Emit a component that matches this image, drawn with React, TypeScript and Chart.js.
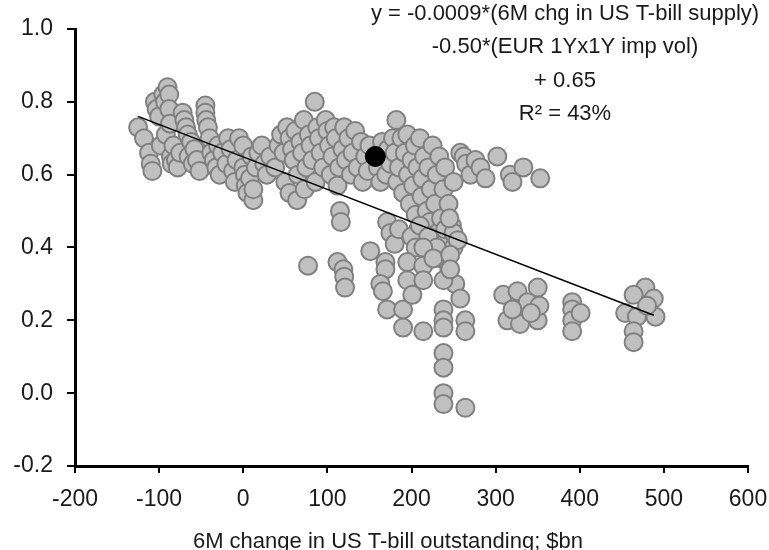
import React, { useEffect, useRef } from "react";
import { Chart, registerables } from "chart.js";

Chart.register(...registerables);

type Pt = [number, number];

// Observations: x = 6M change in US T-bill outstanding ($bn), y = value
const leftCluster: Pt[] = [
  [-125, 0.73], [-118, 0.7], [-112, 0.66], [-110, 0.63], [-108, 0.61], [-105, 0.8], [-103, 0.78],
  [-100, 0.76], [-98, 0.68], [-95, 0.82], [-93, 0.8], [-92, 0.71], [-90, 0.84], [-88, 0.82],
  [-88, 0.78], [-87, 0.74], [-86, 0.65], [-85, 0.63], [-83, 0.68], [-80, 0.64], [-78, 0.62],
  [-75, 0.66], [-72, 0.77], [-70, 0.75], [-68, 0.73], [-66, 0.71], [-65, 0.65], [-62, 0.69],
  [-60, 0.63], [-58, 0.67], [-55, 0.64], [-52, 0.61],
];

const nearZeroCluster: Pt[] = [
  [-45, 0.79], [-45, 0.77], [-44, 0.75], [-42, 0.73], [-40, 0.7], [-38, 0.66], [-35, 0.64],
  [-32, 0.62], [-30, 0.68], [-28, 0.6], [-25, 0.66], [-20, 0.63], [-18, 0.7], [-15, 0.67],
  [-12, 0.61], [-10, 0.58], [-8, 0.64], [-5, 0.7], [0, 0.68], [0, 0.62], [2, 0.6], [3, 0.57],
  [5, 0.55], [8, 0.59], [10, 0.65], [12, 0.53], [12, 0.56], [15, 0.62], [18, 0.66], [22, 0.68],
  [25, 0.63], [28, 0.6], [32, 0.65],
];

const midCluster: Pt[] = [
  [38, 0.62], [42, 0.68], [45, 0.71], [48, 0.66], [50, 0.58], [52, 0.73], [55, 0.7], [55, 0.55],
  [58, 0.67], [60, 0.64], [62, 0.72], [64, 0.53], [65, 0.6], [68, 0.69], [70, 0.66], [72, 0.75],
  [73, 0.56], [75, 0.62], [78, 0.71], [80, 0.68], [82, 0.64], [85, 0.8], [86, 0.58], [88, 0.73],
  [90, 0.7], [92, 0.66], [95, 0.62], [98, 0.75], [100, 0.72], [102, 0.68], [104, 0.6], [106, 0.65],
  [108, 0.73], [110, 0.7], [112, 0.57], [114, 0.62], [115, 0.5], [116, 0.47], [118, 0.67],
  [120, 0.73], [122, 0.64], [125, 0.7], [128, 0.6], [130, 0.66], [133, 0.72], [136, 0.62],
  [140, 0.69], [142, 0.58], [145, 0.65], [148, 0.61], [150, 0.68],
  [77, 0.35], [112, 0.36], [119, 0.34], [120, 0.32], [121, 0.29], [151, 0.39],
];

const denseCluster: Pt[] = [
  [160, 0.62], [163, 0.58], [165, 0.69], [168, 0.65], [170, 0.6], [172, 0.67], [175, 0.63],
  [178, 0.7], [180, 0.66], [182, 0.75], [183, 0.58], [185, 0.62], [188, 0.7], [190, 0.55],
  [192, 0.66], [195, 0.71], [196, 0.6], [198, 0.52], [200, 0.64], [202, 0.57], [204, 0.68],
  [205, 0.49], [207, 0.62], [208, 0.45], [210, 0.7], [212, 0.54], [213, 0.59], [215, 0.65],
  [216, 0.42], [218, 0.5], [220, 0.62], [222, 0.47], [223, 0.56], [225, 0.68], [226, 0.4],
  [228, 0.52], [230, 0.6], [231, 0.44], [233, 0.65], [235, 0.48], [236, 0.37], [238, 0.56],
  [240, 0.62], [242, 0.42], [244, 0.52], [245, 0.34], [248, 0.46], [250, 0.58], [250, 0.4],
  [252, 0.3], [171, 0.47], [175, 0.44], [180, 0.41], [185, 0.45], [200, 0.43], [205, 0.4],
  [210, 0.46], [220, 0.43], [230, 0.4], [240, 0.45], [250, 0.44], [255, 0.42], [245, 0.48],
];

const lowerCluster: Pt[] = [
  [169, 0.36], [169, 0.34], [163, 0.3], [166, 0.28], [171, 0.23], [190, 0.23], [190, 0.18],
  [214, 0.17], [195, 0.36], [195, 0.31], [201, 0.27], [214, 0.4], [214, 0.35], [214, 0.31],
  [226, 0.37], [238, 0.31], [246, 0.38], [246, 0.34], [238, 0.23], [238, 0.2], [238, 0.18],
  [258, 0.26], [264, 0.2], [264, 0.17], [238, 0.11], [238, 0.07], [238, 0.0], [238, -0.03],
  [264, -0.04],
];

const rightArm: Pt[] = [
  [258, 0.66], [262, 0.65], [265, 0.63], [270, 0.6], [276, 0.64], [282, 0.62], [288, 0.59],
  [302, 0.65], [317, 0.6], [320, 0.58], [333, 0.62], [353, 0.59],
];

const farRight: Pt[] = [
  [309, 0.27], [326, 0.28], [350, 0.29], [338, 0.25], [314, 0.2], [329, 0.19], [350, 0.2],
  [352, 0.24], [320, 0.23], [342, 0.22], [391, 0.25], [391, 0.23], [391, 0.2], [391, 0.17],
  [401, 0.22], [478, 0.29], [464, 0.27], [488, 0.26], [454, 0.22], [468, 0.21], [490, 0.21],
  [464, 0.17], [464, 0.14], [480, 0.24],
];

const latestPoint: Pt[] = [[157, 0.65]];

const fitX = [-125, 488];
const fitY = [0.76, 0.214];

const xTicks = [-200, -100, 0, 100, 200, 300, 400, 500, 600];
const yTicks = [-0.2, 0.0, 0.2, 0.4, 0.6, 0.8, 1.0];

const equationLines = [
  "y = -0.0009*(6M chg in US T-bill supply)",
  "-0.50*(EUR 1Yx1Y imp vol)",
  "+ 0.65",
  "R² = 43%",
];
const xAxisTitle = "6M change in US T-bill outstanding; $bn";

const FONT = "'Liberation Sans', Arial, sans-serif";
const TEXT_COLOR = "#1a1a1a";

export default function App() {
  const ref = useRef<HTMLCanvasElement | null>(null);

  useEffect(() => {
    if (!ref.current) return;
    const allGrey = [
      ...leftCluster, ...nearZeroCluster, ...midCluster, ...denseCluster,
      ...lowerCluster, ...rightArm, ...farRight,
    ].map(([x, y]) => ({ x, y }));

    const textPlugin = {
      id: "annotText",
      afterDraw(chart: any) {
        const ctx = chart.ctx as CanvasRenderingContext2D;
        ctx.save();
        ctx.fillStyle = TEXT_COLOR;
        ctx.font = `22px ${FONT}`;
        ctx.textAlign = "center";
        ctx.textBaseline = "alphabetic";
        const baselines = [20, 53, 87, 120];
        equationLines.forEach((t, i) => ctx.fillText(t, 565, baselines[i]));
        ctx.fillText(xAxisTitle, 388, 548);
        ctx.restore();
      },
    };

    const chart = new Chart(ref.current, {
      type: "scatter",
      data: {
        datasets: [
          {
            label: "Latest",
            data: latestPoint.map(([x, y]) => ({ x, y })),
            backgroundColor: "#000000",
            borderColor: "#000000",
            pointRadius: 10,
            borderWidth: 1,
          },
          {
            label: "Fit",
            type: "line",
            data: fitX.map((x, i) => ({ x, y: fitY[i] })),
            borderColor: "#000000",
            borderWidth: 1.5,
            pointRadius: 0,
            fill: false,
          } as any,
          {
            label: "Obs",
            data: allGrey,
            backgroundColor: "#c0c0c0",
            borderColor: "#808080",
            pointRadius: 9,
            borderWidth: 2,
          },
        ],
      },
      options: {
        animation: false,
        responsive: true,
        maintainAspectRatio: false,
        layout: { padding: { top: 29, right: 21, left: 0, bottom: 0 } },
        plugins: {
          legend: { display: false },
          tooltip: { enabled: false },
        },
        scales: {
          x: {
            type: "linear",
            min: -200,
            max: 600,
            afterBuildTicks: (s: any) => {
              s.ticks = xTicks.map((v) => ({ value: v }));
            },
            afterFit: (s: any) => {
              s.height = 84;
              s.paddingRight = 0;
              s.paddingLeft = 0;
            },
            ticks: {
              font: { family: FONT, size: 23 },
              color: TEXT_COLOR,
              padding: 13,
              maxRotation: 0,
              callback: (v: any) => String(v),
            },
            grid: {
              display: true,
              drawOnChartArea: false,
              drawTicks: true,
              tickLength: 7,
              color: "#000000",
              lineWidth: 2,
            },
            border: { display: true, color: "#000000", width: 3 },
          },
          y: {
            type: "linear",
            min: -0.2,
            max: 1.0,
            afterBuildTicks: (s: any) => {
              s.ticks = yTicks.map((v) => ({ value: v }));
            },
            afterFit: (s: any) => {
              s.width = 75;
              s.paddingTop = 0;
              s.paddingBottom = 0;
            },
            ticks: {
              font: { family: FONT, size: 23 },
              color: TEXT_COLOR,
              padding: 14,
              callback: (v: any) => Number(v).toFixed(1),
            },
            grid: {
              display: true,
              drawOnChartArea: false,
              drawTicks: true,
              tickLength: 8,
              color: "#000000",
              lineWidth: 2,
            },
            border: { display: true, color: "#000000", width: 3 },
          },
        },
      },
      plugins: [textPlugin],
    });
    return () => chart.destroy();
  }, []);

  return (
    <div style={{ position: "absolute", left: 0, top: 0, width: 769, height: 550, background: "#ffffff" }}>
      <canvas ref={ref} />
    </div>
  );
}
